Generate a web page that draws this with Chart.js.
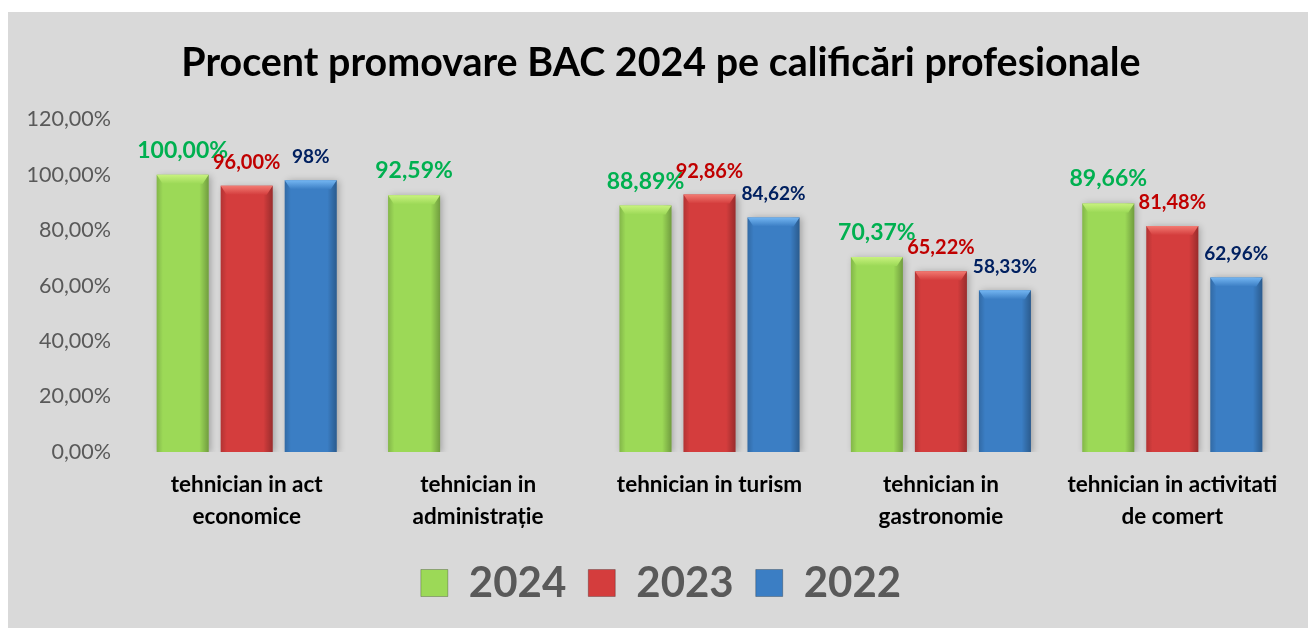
<!DOCTYPE html>
<html>
<head>
<meta charset="utf-8">
<script src="https://cdn.jsdelivr.net/npm/chart.js@4.4.1/dist/chart.umd.min.js"></script>
<style>
  html,body{margin:0;padding:0;background:#fff;}
  #wrap{position:absolute;left:8px;top:12px;width:1300px;height:616px;background:#d9d9d9;}
  #chart{display:block;}
</style>
</head>
<body>
<div id="wrap"><canvas id="chart" width="1300" height="616"></canvas></div>
<script>
// Date
const categorii = [
  ['tehnician in act','economice'],
  ['tehnician in','administrație'],
  'tehnician in turism',
  ['tehnician in','gastronomie'],
  ['tehnician in activitati','de comert']
];
const serii = ['2024','2023','2022'];
const val2024 = [100, 92.59, 88.89, 70.37, 89.66];
const val2023 = [96, null, 92.86, 65.22, 81.48];
const val2022 = [98, null, 84.62, 58.33, 62.96];
const et2024 = ['100,00%','92,59%','88,89%','70,37%','89,66%'];
const et2023 = ['96,00%','','92,86%','65,22%','81,48%'];
const et2022 = ['98%','','84,62%','58,33%','62,96%'];

const FONT = 'Lato, "Open Sans", sans-serif';
const CULORI   = ['#9cd957','#d43d3d','#3b7ec4'];
const BEVEL    = ['#c8f27e','#f27a72','#74b6f2'];
const ET_CUL   = ['#00b050','#c00000','#002060'];
const ET_SIZE  = [23, 20, 19];

// umbra in jurul barelor
const umbraPlugin = {
  id:'umbra',
  beforeDatasetsDraw(chart){
    const c = chart.ctx;
    c.save();
    c.shadowColor = 'rgba(0,0,0,0.28)';
    c.shadowBlur = 7;
    c.shadowOffsetX = 2;
    c.shadowOffsetY = 1;
  },
  afterDatasetsDraw(chart){
    chart.ctx.restore();
  }
};

// efect 3D: margini intunecate + bizou sus
const bevelPlugin = {
  id:'bevel',
  afterDatasetsDraw(chart){
    const c = chart.ctx;
    chart.data.datasets.forEach((ds,di)=>{
      chart.getDatasetMeta(di).data.forEach((bar,i)=>{
        if(ds.data[i]==null) return;
        const w = bar.width, l = bar.x - w/2, r = bar.x + w/2, t = bar.y, b = bar.base;
        c.save();
        const g = c.createLinearGradient(l,0,r,0);
        g.addColorStop(0,'rgba(0,0,0,0.16)');
        g.addColorStop(0.12,'rgba(0,0,0,0)');
        g.addColorStop(0.82,'rgba(0,0,0,0)');
        g.addColorStop(1,'rgba(0,0,0,0.28)');
        c.fillStyle = g;
        c.fillRect(l,t,w,b-t);
        const bv = 9;
        c.beginPath();
        c.moveTo(l,t); c.lineTo(r,t); c.lineTo(r-6,t+bv); c.lineTo(l+6,t+bv); c.closePath();
        const g2 = c.createLinearGradient(0,t,0,t+bv);
        g2.addColorStop(0,BEVEL[di]);
        g2.addColorStop(1,CULORI[di]);
        c.fillStyle = g2;
        c.fill();
        c.restore();
      });
    });
  }
};

// etichete de valoare deasupra barelor
const etichetePlugin = {
  id:'etichete',
  afterDatasetsDraw(chart){
    const c = chart.ctx;
    const texte = [et2024, et2023, et2022];
    chart.data.datasets.forEach((ds,di)=>{
      chart.getDatasetMeta(di).data.forEach((bar,i)=>{
        if(ds.data[i]==null) return;
        c.save();
        c.font = `bold ${ET_SIZE[di]}px ${FONT}`;
        c.fillStyle = ET_CUL[di];
        c.textAlign = 'center';
        c.textBaseline = 'alphabetic';
        c.fillText(texte[di][i], bar.x, bar.y - 17);
        c.restore();
      });
    });
  }
};

new Chart(document.getElementById('chart'), {
  type:'bar',
  data:{
    labels: categorii,
    datasets:[
      { label:serii[0], data:val2024, backgroundColor:CULORI[0] },
      { label:serii[1], data:val2023, backgroundColor:CULORI[1] },
      { label:serii[2], data:val2022, backgroundColor:CULORI[2] }
    ]
  },
  options:{
    responsive:false,
    animation:false,
    devicePixelRatio:1,
    categoryPercentage:0.83,
    barPercentage:0.8125,
    layout:{ padding:{ left:6, right:0, top:0, bottom:14 } },
    plugins:{
      title:{
        display:true,
        text:'Procent promovare BAC 2024 pe calificări profesionale',
        color:'#000',
        font:{ family:FONT, size:39.4, weight:'bold', lineHeight:1.2 },
        padding:{ top:28, bottom:32 }
      },
      legend:{
        position:'bottom',
        labels:{
          color:'#595959',
          font:{ family:FONT, size:42, weight:'bold' },
          boxWidth:27, boxHeight:27,
          padding:22,
          generateLabels(chart){
            return chart.data.datasets.map((ds,i)=>({
              text:ds.label, fillStyle:CULORI[i], strokeStyle:'rgba(0,0,0,0.25)', lineWidth:1,
              fontColor:'#595959', datasetIndex:i, hidden:false
            }));
          }
        }
      },
      tooltip:{ enabled:false }
    },
    scales:{
      x:{
        grid:{ display:false, drawTicks:false },
        border:{ display:false },
        afterFit(scale){ scale.height = 88; },
        ticks:{ color:'#000', font:{ family:FONT, size:22.5, weight:'bold', lineHeight:1.4 }, padding:17, maxRotation:0 }
      },
      y:{
        min:0, max:120,
        grid:{ display:false, drawTicks:false },
        border:{ display:false },
        afterFit(scale){ scale.width = 117; },
        ticks:{
          stepSize:20,
          color:'#595959',
          padding:20,
          font:{ family:FONT, size:21.5 },
          callback:v=>v.toFixed(2).replace('.',',')+'%'
        }
      },
      // spatiu gol in dreapta zonei de desen
      yDreapta:{
        type:'linear',
        position:'right',
        grid:{ display:false, drawTicks:false },
        border:{ display:false },
        ticks:{ display:false },
        afterFit(scale){ scale.width = 20; }
      }
    }
  },
  plugins:[umbraPlugin, bevelPlugin, etichetePlugin]
});
</script>
</body>
</html>
